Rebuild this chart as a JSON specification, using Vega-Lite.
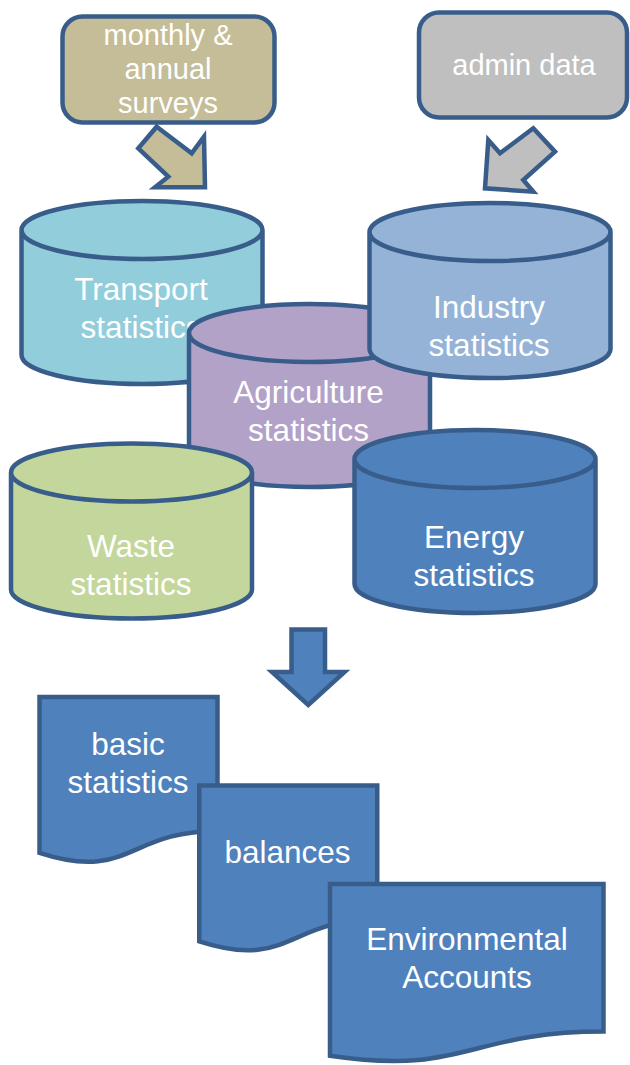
{
  "$schema": "https://vega.github.io/schema/vega-lite/v6.json",
  "width": 630,
  "height": 1065,
  "padding": 0,
  "autosize": {"type": "none"},
  "background": "white",
  "config": {"view": {"stroke": null}},
  "data": {
    "values": [
      {"item": "monthly", "x": 168.5, "y": 69.5, "label": "monthly &\nannual\nsurveys", "lx": 168, "ly": 45},
      {"item": "admin", "x": 523, "y": 65, "label": "admin data", "lx": 524, "ly": 75},
      {"item": "tanArrow", "x": 171, "y": 157},
      {"item": "grayArrow", "x": 520, "y": 160},
      {"item": "transport", "x": 142, "y": 292.5, "label": "Transport\nstatistics", "lx": 141, "ly": 300},
      {"item": "agriculture", "x": 309.5, "y": 395.5, "label": "Agriculture\nstatistics", "lx": 308.5, "ly": 403},
      {"item": "industry", "x": 490, "y": 290.5, "label": "Industry\nstatistics", "lx": 489, "ly": 318},
      {"item": "waste", "x": 131.5, "y": 531, "label": "Waste\nstatistics", "lx": 131, "ly": 557},
      {"item": "energy", "x": 475, "y": 521.5, "label": "Energy\nstatistics", "lx": 474, "ly": 548},
      {"item": "downArrow", "x": 308.25, "y": 667},
      {"item": "basic", "x": 128.5, "y": 780.5, "label": "basic\nstatistics", "lx": 128, "ly": 755},
      {"item": "balances", "x": 288.25, "y": 869, "label": "balances", "lx": 287.5, "ly": 863},
      {"item": "env", "x": 466.75, "y": 976, "label": "Environmental\nAccounts", "lx": 467, "ly": 950}
    ]
  },
  "layer": [
    {
      "transform": [{"filter": {"field": "item", "oneOf": ["monthly", "admin", "tanArrow", "grayArrow", "transport"]}}],
      "mark": {"type": "point", "filled": true, "opacity": 1, "size": 4, "stroke": "#385d8a", "strokeWidth": 4.5},
      "encoding": {
        "x": {"field": "x", "type": "quantitative", "scale": {"domain": [0, 630], "nice": false, "zero": false}, "axis": null},
        "y": {"field": "y", "type": "quantitative", "scale": {"domain": [0, 1065], "nice": false, "zero": false, "reverse": true}, "axis": null},
        "shape": {"field": "item", "type": "nominal", "legend": null, "scale": {
          "domain": ["monthly", "admin", "tanArrow", "grayArrow", "transport", "agriculture", "industry", "waste", "energy", "downArrow", "basic", "balances", "env"],
          "range": [
            "M-86,-53L86,-53C97.05,-53 106,-44.05 106,-33L106,33C106,44.05 97.05,53 86,53L-86,53C-97.05,53 -106,44.05 -106,33L-106,-33C-106,-44.05 -97.05,-53 -86,-53Z",
            "M-84,-52.5L84,-52.5C95.05,-52.5 104,-43.55 104,-32.5L104,32.5C104,43.55 95.05,52.5 84,52.5L-84,52.5C-95.05,52.5 -104,43.55 -104,32.5L-104,-32.5C-104,-43.55 -95.05,-52.5 -84,-52.5Z",
            "M-14.3,-30.3L20.7,-3.7L33,-20.3L34,30.3L-16,30.3L-2.7,19.7L-32.7,-8.7Z",
            "M13.3,-31.7L35,-8.3L3.3,20L13.3,31.7L-35,28.3L-31.7,-20L-20,-6.7Z",
            "M-120.5,-62.5L-120.5,62.5C-120.5,78.52 -66.55,91.5 0,91.5C66.55,91.5 120.5,78.52 120.5,62.5L120.5,-62.5C120.5,-78.52 66.55,-91.5 0,-91.5C-66.55,-91.5 -120.5,-78.52 -120.5,-62.5ZM-120.5,-62.5C-120.5,-46.48 -66.55,-33.5 0,-33.5C66.55,-33.5 120.5,-46.48 120.5,-62.5",
            "M-120.5,-62.5L-120.5,62.5C-120.5,78.52 -66.55,91.5 0,91.5C66.55,91.5 120.5,78.52 120.5,62.5L120.5,-62.5C120.5,-78.52 66.55,-91.5 0,-91.5C-66.55,-91.5 -120.5,-78.52 -120.5,-62.5ZM-120.5,-62.5C-120.5,-46.48 -66.55,-33.5 0,-33.5C66.55,-33.5 120.5,-46.48 120.5,-62.5",
            "M-120.5,-58.5L-120.5,58.5C-120.5,74.52 -66.55,87.5 0,87.5C66.55,87.5 120.5,74.52 120.5,58.5L120.5,-58.5C120.5,-74.52 66.55,-87.5 0,-87.5C-66.55,-87.5 -120.5,-74.52 -120.5,-58.5ZM-120.5,-58.5C-120.5,-42.48 -66.55,-29.5 0,-29.5C66.55,-29.5 120.5,-42.48 120.5,-58.5",
            "M-120.5,-58.5L-120.5,58.5C-120.5,74.52 -66.55,87.5 0,87.5C66.55,87.5 120.5,74.52 120.5,58.5L120.5,-58.5C120.5,-74.52 66.55,-87.5 0,-87.5C-66.55,-87.5 -120.5,-74.52 -120.5,-58.5ZM-120.5,-58.5C-120.5,-42.48 -66.55,-29.5 0,-29.5C66.55,-29.5 120.5,-42.48 120.5,-58.5",
            "M-120.5,-62.5L-120.5,62.5C-120.5,78.52 -66.55,91.5 0,91.5C66.55,91.5 120.5,78.52 120.5,62.5L120.5,-62.5C120.5,-78.52 66.55,-91.5 0,-91.5C-66.55,-91.5 -120.5,-78.52 -120.5,-62.5ZM-120.5,-62.5C-120.5,-46.48 -66.55,-33.5 0,-33.5C66.55,-33.5 120.5,-46.48 120.5,-62.5",
            "M-16.75,-37.5L16.75,-37.5L16.75,5L36.25,5L0,38L-36.25,5L-16.75,5Z",
            "M-89,-83.5L89,-83.5L89,50.4C0,50.4 0,101.45 -89,72.46Z",
            "M-89,-83.5L89,-83.5L89,50.4C0,50.4 0,101.45 -89,72.46Z",
            "M-136.75,-92L136.75,-92L136.75,55.56C0,55.56 0,100 -136.75,79.84Z"
          ]}},
        "color": {"field": "item", "type": "nominal", "legend": null, "scale": {
          "domain": ["monthly", "admin", "tanArrow", "grayArrow", "transport", "agriculture", "industry", "waste", "energy", "downArrow", "basic", "balances", "env"],
          "range": ["#c4bd97", "#bfbfbf", "#c4bd97", "#bfbfbf", "#92cddc", "#b3a2c7", "#95b3d7", "#c3d69b", "#4f81bd", "#4f81bd", "#4f81bd", "#4f81bd", "#4f81bd"]}}
      }
    },
    {
      "transform": [{"filter": {"field": "item", "oneOf": ["monthly", "admin"]}}],
      "mark": {"type": "text", "fill": "white", "font": "Liberation Sans", "fontSize": 29, "lineHeight": 34, "lineBreak": "\n", "align": "center", "baseline": "alphabetic"},
      "encoding": {
        "x": {"field": "lx", "type": "quantitative", "scale": {"domain": [0, 630], "nice": false, "zero": false}, "axis": null},
        "y": {"field": "ly", "type": "quantitative", "scale": {"domain": [0, 1065], "nice": false, "zero": false, "reverse": true}, "axis": null},
        "text": {"field": "label", "type": "nominal"}
      }
    },
    {
      "transform": [{"filter": {"field": "item", "oneOf": ["transport"]}}],
      "mark": {"type": "text", "fill": "white", "font": "Liberation Sans", "fontSize": 31.5, "lineHeight": 38, "lineBreak": "\n", "align": "center", "baseline": "alphabetic"},
      "encoding": {
        "x": {"field": "lx", "type": "quantitative", "scale": {"domain": [0, 630], "nice": false, "zero": false}, "axis": null},
        "y": {"field": "ly", "type": "quantitative", "scale": {"domain": [0, 1065], "nice": false, "zero": false, "reverse": true}, "axis": null},
        "text": {"field": "label", "type": "nominal"}
      }
    },
    {
      "transform": [{"filter": {"field": "item", "oneOf": ["agriculture", "industry", "waste", "energy", "downArrow", "basic", "balances", "env"]}}],
      "mark": {"type": "point", "filled": true, "opacity": 1, "size": 4, "stroke": "#385d8a", "strokeWidth": 4.5},
      "encoding": {
        "x": {"field": "x", "type": "quantitative", "scale": {"domain": [0, 630], "nice": false, "zero": false}, "axis": null},
        "y": {"field": "y", "type": "quantitative", "scale": {"domain": [0, 1065], "nice": false, "zero": false, "reverse": true}, "axis": null},
        "shape": {"field": "item", "type": "nominal", "legend": null},
        "color": {"field": "item", "type": "nominal", "legend": null}
      }
    },
    {
      "transform": [{"filter": {"field": "item", "oneOf": ["agriculture", "industry", "waste", "energy", "basic", "balances", "env"]}}],
      "mark": {"type": "text", "fill": "white", "font": "Liberation Sans", "fontSize": 31.5, "lineHeight": 38, "lineBreak": "\n", "align": "center", "baseline": "alphabetic"},
      "encoding": {
        "x": {"field": "lx", "type": "quantitative", "scale": {"domain": [0, 630], "nice": false, "zero": false}, "axis": null},
        "y": {"field": "ly", "type": "quantitative", "scale": {"domain": [0, 1065], "nice": false, "zero": false, "reverse": true}, "axis": null},
        "text": {"field": "label", "type": "nominal"}
      }
    }
  ]
}
